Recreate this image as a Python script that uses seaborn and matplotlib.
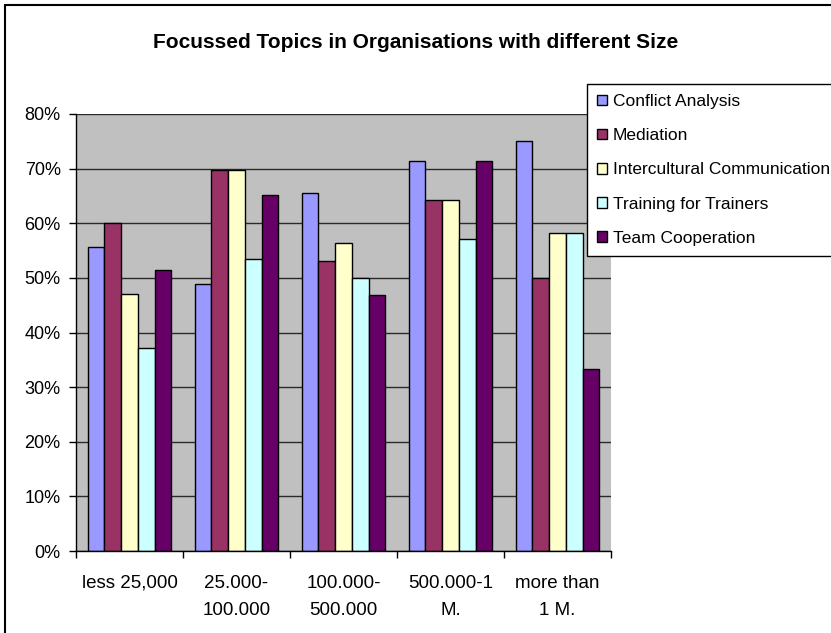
import pandas as pd
import matplotlib.pyplot as plt
import seaborn as sns
from matplotlib.ticker import PercentFormatter, FixedLocator
from matplotlib.patches import Rectangle

# Categories (organisation size) and topic shares
sizes = ['less 25,000', '25.000-\n100.000', '100.000-\n500.000', '500.000-1\nM.', 'more than\n1 M.']
topics = ['Conflict Analysis', 'Mediation', 'Intercultural Communication',
          'Training for Trainers', 'Team Cooperation']

conflict_analysis = [0.556, 0.488, 0.656, 0.714, 0.750]
mediation = [0.600, 0.698, 0.531, 0.643, 0.500]
intercultural = [0.471, 0.698, 0.563, 0.643, 0.583]
training = [0.371, 0.535, 0.500, 0.571, 0.583]
team_coop = [0.515, 0.651, 0.469, 0.714, 0.333]

colors = ['#9999FF', '#993366', '#FFFFCC', '#CCFFFF', '#660066']

# Long format for seaborn
series = [conflict_analysis, mediation, intercultural, training, team_coop]
rows = []
for topic, vals in zip(topics, series):
    for size, v in zip(sizes, vals):
        rows.append({'Size': size, 'Topic': topic, 'Share': v})
df = pd.DataFrame(rows)
df['Size'] = pd.Categorical(df['Size'], categories=sizes, ordered=True)

sns.set_style("white")
plt.rcParams['font.family'] = ['Liberation Sans', 'DejaVu Sans']
plt.rcParams.update({'text.color': 'black', 'xtick.color': 'black',
                     'ytick.color': 'black', 'axes.labelcolor': 'black'})

fig = plt.figure(figsize=(8.31, 6.33), dpi=100)
ax = fig.add_axes([76 / 831, 1 - 551 / 633, (611 - 76) / 831, (551 - 114) / 633])

sns.barplot(data=df, x='Size', y='Share', hue='Topic', hue_order=topics,
            palette=colors, width=0.78, edgecolor='black', linewidth=1,
            saturation=1, ax=ax, legend=True)

ax.set_facecolor('#C0C0C0')
ax.set_ylim(0, 0.8)
ax.set_xlim(-0.5, 4.5)
ax.yaxis.set_major_locator(FixedLocator([i / 10 for i in range(9)]))
ax.yaxis.set_major_formatter(PercentFormatter(1.0, decimals=0))
ax.set_axisbelow(True)
ax.grid(axis='y', color='#2a2a2a', linewidth=1)
ax.set_xlabel('')
ax.set_ylabel('')

for s in ['top', 'right']:
    ax.spines[s].set_visible(False)
for s in ['left', 'bottom']:
    ax.spines[s].set_color('black')
    ax.spines[s].set_linewidth(1)

# group boundary ticks on x, label ticks hidden
ax.set_xticks([i - 0.5 for i in range(6)], minor=True)
ax.tick_params(axis='x', which='major', length=0, labelsize=13.5, pad=17)
ax.tick_params(axis='x', which='minor', length=5, width=1, color='black', direction='out')
ax.tick_params(axis='y', length=5, width=1, color='black', direction='out', labelsize=13, pad=6)
ax.yaxis.set_ticks_position('left')
ax.xaxis.set_ticks_position('bottom')
for lbl in ax.get_xticklabels():
    lbl.set_horizontalalignment('center')
    lbl.set_verticalalignment('top')
    lbl.set_multialignment('center')
    lbl.set_linespacing(1.8)

ax.get_legend().remove()
handles = [Rectangle((0, 0), 1, 1, facecolor=c, edgecolor='black', linewidth=1) for c in colors]
leg = fig.legend(handles, topics, loc='upper left', bbox_to_anchor=(587 / 831, 1 - 84 / 633),
                 fontsize=12.5, frameon=True, fancybox=False, shadow=False,
                 handlelength=0.55, handleheight=0.55, handletextpad=0.35,
                 labelspacing=1.1, borderpad=0.59, borderaxespad=0)
leg.get_frame().set_edgecolor('black')
leg.get_frame().set_linewidth(1)
leg.get_frame().set_alpha(1)

fig.suptitle('Focussed Topics in Organisations with different Size',
             x=0.5, y=1 - 43 / 633, va='center', fontsize=15, fontweight='bold')

# outer chart border (cut off at right and bottom in the original)
fig.patches.append(Rectangle((5 / 831, -0.1), 2, 1 - 5 / 633 + 0.1, transform=fig.transFigure,
                             fill=False, edgecolor='black', linewidth=1.5))

fig.savefig('out.png', dpi=100, facecolor='white')
